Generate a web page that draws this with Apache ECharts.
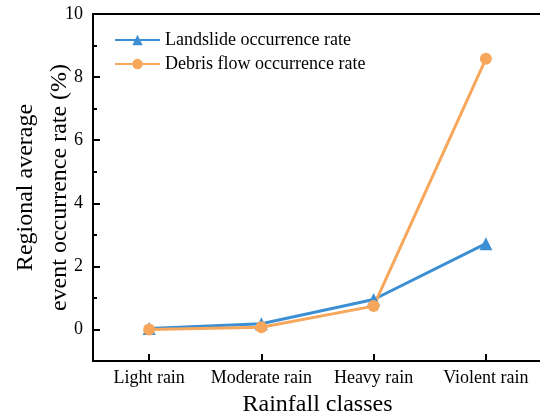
<!DOCTYPE html>
<html>
<head>
<meta charset="utf-8">
<script src="https://cdn.jsdelivr.net/npm/echarts@6/dist/echarts.min.js"></script>
<style>
  html, body { margin: 0; padding: 0; background: #fff; }
  #chart { width: 540px; height: 418px; }
</style>
</head>
<body>
<div id="chart"></div>
<script>
// categories and values
var classes = ['Light rain', 'Moderate rain', 'Heavy rain', 'Violent rain'];
var landslide = [0.03, 0.18, 0.95, 2.72];
var debrisFlow = [0.0, 0.07, 0.74, 8.58];
var majorTicks = [0, 2, 4, 6, 8, 10];
var minorTicks = [-1, 1, 3, 5, 7, 9];

var font = 'Liberation Serif, Times New Roman, serif';
var black = '#000';

var chart = echarts.init(document.getElementById('chart'));
var option = {
    animation: false,
    textStyle: { fontFamily: font, color: black },
    grid: {
        left: 93, right: -2, top: 14, bottom: 57,
        containLabel: false,
        outerBoundsMode: 'none'
    },
    legend: {
        orient: 'vertical',
        left: 114, top: 31,
        padding: 0,
        itemWidth: 45, itemHeight: 13, itemGap: 6,
        textStyle: { fontFamily: font, fontSize: 18, color: black },
        data: ['Landslide occurrence rate', 'Debris flow occurrence rate']
    },
    xAxis: [{
        type: 'category',
        data: classes,
        name: 'Rainfall classes',
        nameLocation: 'middle',
        nameGap: 32,
        nameMoveOverlap: false,
        nameTextStyle: { fontFamily: font, fontSize: 24, color: black },
        axisLine: { onZero: false, lineStyle: { color: black, width: 2 } },
        axisTick: { show: true, inside: true, alignWithLabel: true, length: 7, lineStyle: { color: black, width: 2 } },
        axisLabel: { fontFamily: font, fontSize: 18, color: black, margin: 8, interval: 0 },
        splitLine: { show: false }
    }, {
        type: 'category',
        position: 'top',
        data: classes,
        axisLine: { onZero: false, lineStyle: { color: black, width: 2 } },
        axisTick: { show: false },
        axisLabel: { show: false },
        splitLine: { show: false }
    }],
    yAxis: [{
        type: 'value',
        min: -1, max: 10, interval: 1,
        name: 'Regional average\nevent occurrence rate (%)',
        nameLocation: 'middle',
        nameGap: 16,
        nameMoveOverlap: false,
        nameTextStyle: { fontFamily: font, fontSize: 24, color: black, lineHeight: 34 },
        axisLine: { show: true, onZero: false, lineStyle: { color: black, width: 2 } },
        axisTick: { show: true, inside: true, length: 7, customValues: majorTicks, lineStyle: { color: black, width: 2 } },
        axisLabel: { fontFamily: font, fontSize: 18, color: black, margin: 10, customValues: majorTicks },
        splitLine: { show: false }
    }, {
        type: 'value',
        position: 'left',
        min: -1, max: 10, interval: 1,
        axisLine: { show: false, onZero: false },
        axisTick: { show: true, inside: true, length: 4, customValues: minorTicks, lineStyle: { color: black, width: 2 } },
        axisLabel: { show: false },
        splitLine: { show: false }
    }],
    series: [{
        name: 'Landslide occurrence rate',
        type: 'line',
        data: landslide,
        symbol: 'triangle',
        symbolSize: 13,
        itemStyle: { color: '#3d8fd3' },
        lineStyle: { color: '#3d8fd3', width: 3 }
    }, {
        name: 'Debris flow occurrence rate',
        type: 'line',
        data: debrisFlow,
        symbol: 'circle',
        symbolSize: 12,
        itemStyle: { color: '#f6a75c' },
        lineStyle: { color: '#f6a75c', width: 3 }
    }]
};
chart.setOption(option);
</script>
</body>
</html>
